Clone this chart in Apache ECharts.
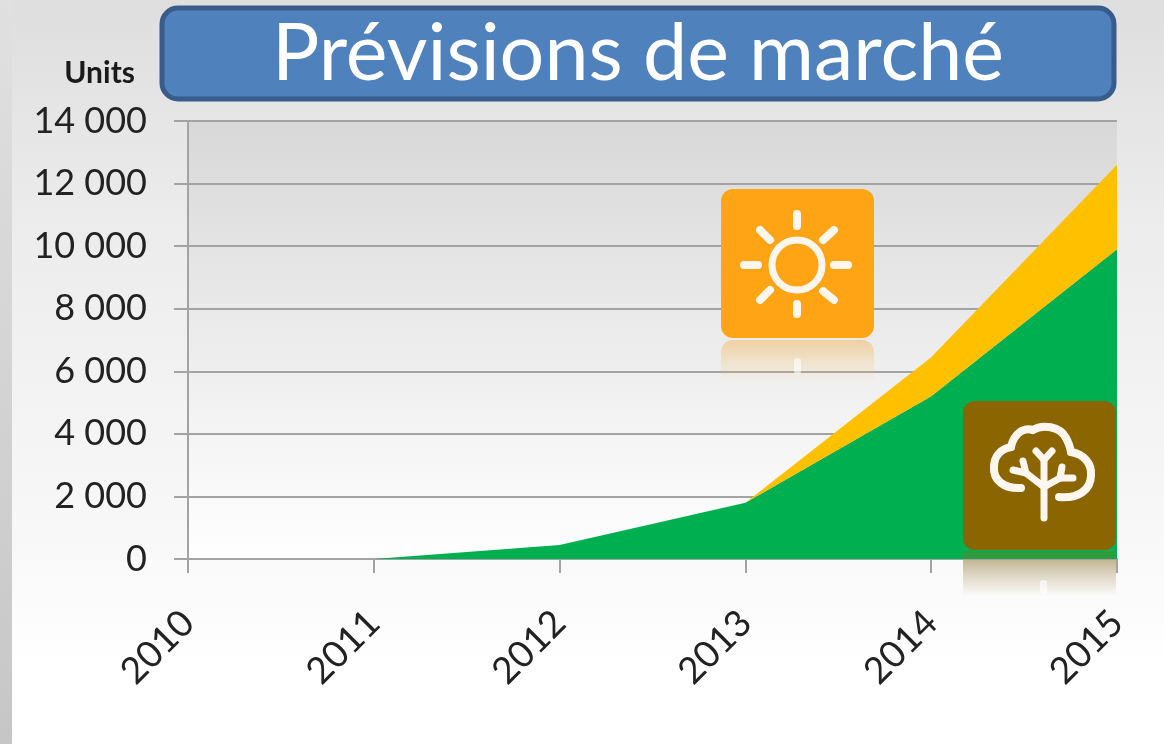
<!DOCTYPE html>
<html>
<head>
<meta charset="utf-8">
<style>
  html, body { margin: 0; padding: 0; background: #fff; }
  #chart { width: 1164px; height: 744px; }
</style>
</head>
<body>
<div id="chart"></div>
<script src="https://cdn.jsdelivr.net/npm/echarts@6/dist/echarts.min.js"></script>
<script>
const years = ['2010', '2011', '2012', '2013', '2014', '2015']
const greenValues = [0, 0, 450, 1800, 5200, 9900]
const yellowValues = [0, 0, 0, 0, 1250, 2700]
const titleText = 'Prévisions de marché'
const unitText = 'Units'

const chart = echarts.init(document.getElementById('chart'))

const vGrad = (stops) => new echarts.graphic.LinearGradient(0, 0, 0, 1,
  stops.map(s => ({ offset: s[0], color: s[1] })))

// white strokes for the two icons
const iconStroke = { stroke: '#fff6f0', lineWidth: 8, lineCap: 'round', lineJoin: 'round', fill: null }

const sunRays = [
  [797, 214, 797, 226], [797, 304, 797, 314],
  [744, 265, 758, 265], [834, 265, 848, 265],
  [760, 230, 770, 240], [834, 230, 823, 240],
  [760, 300, 770, 290], [834, 300, 823, 291]
]

// tree outline: x1,y1,cpx1,cpy1,cpx2,cpy2,x2,y2
const treeCloud = [
  [1021, 488, 1004, 489, 993, 480, 994, 467],
  [994, 467, 994, 456, 1001, 449, 1011, 447],
  [1011, 447, 1014, 433, 1024, 427, 1033, 430],
  [1033, 430, 1042, 424, 1060, 426, 1066, 438],
  [1066, 438, 1069, 443, 1070, 447, 1071, 452],
  [1071, 452, 1084, 454, 1092, 464, 1091, 475],
  [1091, 475, 1091, 490, 1078, 499, 1059, 497]
]
const treeBranches = [
  [[1044, 518], [1044, 487], [1026, 473], [1013, 470]],
  [[1026, 473], [1023, 461]],
  [[1044, 487], [1044, 460], [1036, 451]],
  [[1044, 460], [1052, 451]],
  [[1044, 487], [1060, 478], [1073, 478]],
  [[1060, 478], [1062, 467]]
]

const option = {
  animation: false,
  backgroundColor: 'transparent',
  textStyle: { fontFamily: 'Lato' },
  grid: {
    left: 188, right: 47, top: 121, bottom: 185,
    show: true,
    borderWidth: 0,
    backgroundColor: vGrad([[0, '#d8d8d8'], [0.5, '#ececec'], [1, '#ffffff']])
  },
  xAxis: {
    type: 'category',
    data: years,
    boundaryGap: false,
    axisLine: { lineStyle: { color: '#a3a3a3', width: 2 } },
    axisTick: { show: true, alignWithLabel: true, length: 14, lineStyle: { color: '#a3a3a3', width: 2 } },
    axisLabel: {
      rotate: 45, fontSize: 37, color: '#222', margin: 58, padding: [7, 0, 0, 0],
      interval: 0, hideOverlap: false, showMinLabel: true, showMaxLabel: true
    }
  },
  yAxis: {
    type: 'value',
    min: 0,
    max: 14000,
    interval: 2000,
    axisLine: { show: true, lineStyle: { color: '#a3a3a3', width: 2 } },
    axisTick: { show: true, length: 14, lineStyle: { color: '#a3a3a3', width: 2 } },
    axisLabel: {
      fontSize: 36, color: '#222', margin: 41,
      formatter: v => v >= 1000 ? Math.floor(v / 1000) + ' 000' : String(v)
    },
    splitLine: { show: true, lineStyle: { color: '#a3a3a3', width: 2 } }
  },
  series: [
    {
      name: 'green', type: 'line', stack: 'total', data: greenValues, symbol: 'none',
      lineStyle: { width: 0 }, areaStyle: { color: '#00b050', opacity: 1 }
    },
    {
      name: 'yellow', type: 'line', stack: 'total', data: yellowValues, symbol: 'none',
      lineStyle: { width: 0 }, areaStyle: { color: '#ffc000', opacity: 1 }
    }
  ],
  graphic: [
    // slide background behind the chart
    { type: 'rect', z: -10, silent: true, shape: { x: 0, y: 0, width: 1164, height: 744 },
      style: { fill: vGrad([[0, '#dedede'], [0.3, '#ececec'], [0.75, '#f9f9f9'], [0.9, '#ffffff'], [1, '#ffffff']]) } },
    { type: 'rect', z: -9, silent: true, shape: { x: 0, y: 0, width: 12, height: 744 },
      style: { fill: vGrad([[0, '#e0e0e0'], [0.5, '#d4d4d4'], [1, '#c6c6c6']]) } },

    // title box
    { type: 'rect', z: 50, shape: { x: 162, y: 8, width: 952, height: 91, r: 16 },
      style: { fill: '#4f81bd', stroke: '#385d8a', lineWidth: 5 } },
    { type: 'text', z: 51, style: { x: 638, y: 55, text: titleText, fill: '#fff', font: '79px Lato', align: 'center', verticalAlign: 'middle' } },
    { type: 'text', z: 51, style: { x: 135, y: 73, text: unitText, fill: '#1a1a1a', font: 'bold 30px Lato', align: 'right', verticalAlign: 'middle' } },

    // sun icon and its reflection
    { type: 'rect', z: 50, shape: { x: 721, y: 340, width: 153, height: 42, r: [12, 12, 0, 0] },
      style: { fill: vGrad([[0, 'rgba(240,175,70,0.45)'], [1, 'rgba(255,190,90,0)']]) } },
    { type: 'rect', z: 50, shape: { x: 794, y: 358, width: 7, height: 16, r: 3 }, style: { fill: 'rgba(255,255,255,0.6)' } },
    { type: 'rect', z: 51, shape: { x: 721, y: 189, width: 153, height: 149, r: 12 }, style: { fill: '#ffa414' } },
    { type: 'circle', z: 52, shape: { cx: 797, cy: 265, r: 25 }, style: { fill: null, stroke: '#fff6f0', lineWidth: 7 } },
    ...sunRays.map(r => ({ type: 'line', z: 52, shape: { x1: r[0], y1: r[1], x2: r[2], y2: r[3] }, style: iconStroke })),

    // tree icon and its reflection
    { type: 'rect', z: 50, shape: { x: 963, y: 551, width: 152, height: 8 }, style: { fill: '#2e9c3c' } },
    { type: 'rect', z: 50, shape: { x: 963, y: 560, width: 153, height: 36 },
      style: { fill: vGrad([[0, 'rgba(140,115,50,0.5)'], [1, 'rgba(160,140,80,0)']]) } },
    { type: 'rect', z: 51, shape: { x: 1040, y: 580, width: 7, height: 14, r: 3 }, style: { fill: 'rgba(255,255,255,0.6)' } },
    { type: 'rect', z: 51, shape: { x: 963, y: 401, width: 153, height: 149, r: 12 }, style: { fill: '#8b6500' } },
    ...treeCloud.map(c => ({
      type: 'bezierCurve', z: 52,
      shape: { x1: c[0], y1: c[1], cpx1: c[2], cpy1: c[3], cpx2: c[4], cpy2: c[5], x2: c[6], y2: c[7] },
      style: iconStroke
    })),
    ...treeBranches.map(b => ({
      type: 'polyline', z: 52, shape: { points: b },
      style: { stroke: '#fff6f0', lineWidth: 7, lineCap: 'round', lineJoin: 'round', fill: null }
    }))
  ]
}

chart.setOption(option)
</script>
</body>
</html>
